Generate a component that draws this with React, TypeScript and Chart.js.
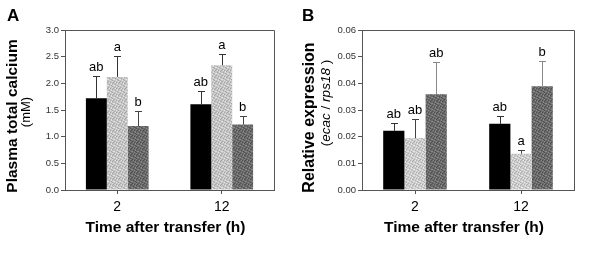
import React, { useEffect, useRef } from "react";
import { Chart, registerables } from "chart.js";
Chart.register(...registerables);

// ---------- data ----------
const categories = ["2", "12"];

// Panel A: plasma total calcium (mM)
const calciumBlack = [1.72, 1.61];
const calciumLight = [2.12, 2.34];
const calciumDark = [1.2, 1.23];
const calciumBlackErr = [0.42, 0.24];
const calciumLightErr = [0.39, 0.21];
const calciumDarkErr = [0.28, 0.16];
const calciumBlackLetters = ["ab", "ab"];
const calciumLightLetters = ["a", "a"];
const calciumDarkLetters = ["b", "b"];

// Panel B: relative expression (ecac / rps18)
const exprBlack = [0.0222, 0.0248];
const exprLight = [0.0195, 0.0136];
const exprDark = [0.0359, 0.0389];
const exprBlackErr = [0.0029, 0.0029];
const exprLightErr = [0.0071, 0.0015];
const exprDarkErr = [0.0122, 0.0096];
const exprBlackLetters = ["ab", "ab"];
const exprLightLetters = ["ab", "a"];
const exprDarkLetters = ["ab", "b"];

const FONT = "'Liberation Sans', Arial, Helvetica, sans-serif";

const STIPPLE = [
  [0, 1, 0, 2, 0, 0],
  [2, 0, 0, 1, 0, 2],
  [0, 0, 2, 0, 1, 0],
  [1, 0, 0, 0, 2, 0],
  [0, 2, 1, 0, 0, 1],
  [0, 0, 0, 2, 1, 0],
];

function makePattern(palette: string[]): CanvasPattern | string {
  const n = STIPPLE.length;
  const c = document.createElement("canvas");
  c.width = n;
  c.height = n;
  const ctx = c.getContext("2d");
  if (!ctx) return palette[0];
  for (let y = 0; y < n; y++) {
    for (let x = 0; x < n; x++) {
      ctx.fillStyle = palette[STIPPLE[y][x]];
      ctx.fillRect(x, y, 1, 1);
    }
  }
  return ctx.createPattern(c, "repeat") || palette[0];
}

type Seg = { text: string; italic?: boolean };

type PanelCfg = {
  panelLetter: string;
  letterX: number;
  yMax: number;
  yStep: number;
  decimals: number;
  leftWidth: number;
  title1: string;
  title1Size: number;
  title1X: number;
  title1Y: number;
  title2: Seg[];
  title2Size: number;
  title2X: number;
  title2Y: number;
  values: number[][];
  errors: number[][];
  letters: string[][];
  errColors: string[];
  lightPalette: string[];
  darkPalette: string[];
};

function Panel({ cfg }: { cfg: PanelCfg }) {
  const ref = useRef<HTMLCanvasElement | null>(null);
  useEffect(() => {
    if (!ref.current) return;
    const fills = [
      "#000000",
      makePattern(cfg.lightPalette),
      makePattern(cfg.darkPalette),
    ];

    const overlay = {
      id: "overlay",
      afterDatasetsDraw(chart: any) {
        const ctx = chart.ctx;
        const yScale = chart.scales.y;
        ctx.save();
        chart.data.datasets.forEach((ds: any, di: number) => {
          const meta = chart.getDatasetMeta(di);
          meta.data.forEach((el: any, i: number) => {
            const v = cfg.values[di][i];
            const e = cfg.errors[di][i];
            const yTop = yScale.getPixelForValue(v);
            const yErr = yScale.getPixelForValue(v + e);
            const x = Math.round(el.x) + 0.5;
            ctx.strokeStyle = cfg.errColors[di];
            ctx.lineWidth = 1;
            ctx.beginPath();
            ctx.moveTo(x, yTop);
            ctx.lineTo(x, Math.round(yErr) + 0.5);
            ctx.moveTo(x - 3.5, Math.round(yErr) + 0.5);
            ctx.lineTo(x + 3.5, Math.round(yErr) + 0.5);
            ctx.stroke();
            ctx.fillStyle = "#000";
            ctx.font = `13px ${FONT}`;
            ctx.textAlign = "center";
            ctx.textBaseline = "alphabetic";
            ctx.fillText(cfg.letters[di][i], el.x, yErr - 5);
          });
        });
        ctx.restore();
      },
      afterDraw(chart: any) {
        const ctx = chart.ctx;
        const a = chart.chartArea;
        ctx.save();
        // frame top and right
        ctx.strokeStyle = "#555";
        ctx.lineWidth = 1;
        ctx.beginPath();
        ctx.moveTo(a.left, Math.round(a.top) + 0.5);
        ctx.lineTo(Math.round(a.right) + 0.5, Math.round(a.top) + 0.5);
        ctx.lineTo(Math.round(a.right) + 0.5, a.bottom);
        ctx.stroke();

        // panel letter
        ctx.fillStyle = "#000";
        ctx.font = `bold 17px ${FONT}`;
        ctx.textAlign = "left";
        ctx.textBaseline = "alphabetic";
        ctx.fillText(cfg.panelLetter, cfg.letterX, 21);

        // x title
        ctx.font = `bold 15.5px ${FONT}`;
        ctx.textAlign = "center";
        ctx.fillText("Time after transfer (h)", (a.left + a.right) / 2 - 4, 232);

        // y title line 1
        ctx.save();
        ctx.translate(cfg.title1X, cfg.title1Y);
        ctx.rotate(-Math.PI / 2);
        ctx.font = `bold ${cfg.title1Size}px ${FONT}`;
        ctx.textAlign = "center";
        ctx.fillText(cfg.title1, 0, 0);
        ctx.restore();

        // y title line 2 (mixed styles)
        ctx.save();
        ctx.translate(cfg.title2X, cfg.title2Y);
        ctx.rotate(-Math.PI / 2);
        ctx.textAlign = "left";
        const fontOf = (s: Seg) =>
          `${s.italic ? "italic " : ""}${cfg.title2Size}px ${FONT}`;
        let total = 0;
        cfg.title2.forEach((s) => {
          ctx.font = fontOf(s);
          total += ctx.measureText(s.text).width;
        });
        let xx = -total / 2;
        cfg.title2.forEach((s) => {
          ctx.font = fontOf(s);
          ctx.fillText(s.text, xx, 0);
          xx += ctx.measureText(s.text).width;
        });
        ctx.restore();

        ctx.restore();
      },
    };

    const chart = new Chart(ref.current, {
      type: "bar",
      data: {
        labels: categories,
        datasets: cfg.values.map((vals, di) => ({
          data: vals,
          backgroundColor: fills[di] as any,
          borderWidth: 0,
          categoryPercentage: 0.6,
          barPercentage: 1.0,
        })),
      },
      options: {
        responsive: false,
        animation: false,
        events: [],
        layout: { padding: { left: 0, right: 26, top: 30, bottom: 0 } },
        plugins: {
          legend: { display: false },
          tooltip: { enabled: false },
          title: { display: false },
        },
        scales: {
          x: {
            grid: {
              display: true,
              offset: false,
              drawOnChartArea: false,
              tickLength: 4,
              color: "#555",
            },
            border: { color: "#555" },
            ticks: {
              color: "#000",
              font: { family: FONT, size: 14 },
              padding: 5,
            },
            afterFit: (scale: any) => {
              scale.height = 66;
            },
          },
          y: {
            min: 0,
            max: cfg.yMax,
            grid: {
              display: true,
              drawOnChartArea: false,
              tickLength: 4,
              color: "#555",
            },
            border: { color: "#555" },
            ticks: {
              stepSize: cfg.yStep,
              color: "#333",
              font: { family: FONT, size: 9.5 },
              padding: 2,
              callback: (v: any) => Number(v).toFixed(cfg.decimals),
            },
            afterFit: (scale: any) => {
              scale.width = cfg.leftWidth;
            },
          },
        },
      },
      plugins: [overlay],
    });
    return () => chart.destroy();
  }, [cfg]);
  return <canvas ref={ref} width={300} height={256} style={{ display: "block" }} />;
}

const panelA: PanelCfg = {
  panelLetter: "A",
  letterX: 7,
  yMax: 3,
  yStep: 0.5,
  decimals: 1,
  leftWidth: 65,
  title1: "Plasma total calcium",
  title1Size: 15.5,
  title1X: 16.5,
  title1Y: 116,
  title2: [{ text: "(mM)" }],
  title2Size: 13,
  title2X: 30,
  title2Y: 112,
  values: [calciumBlack, calciumLight, calciumDark],
  errors: [calciumBlackErr, calciumLightErr, calciumDarkErr],
  letters: [calciumBlackLetters, calciumLightLetters, calciumDarkLetters],
  errColors: ["#333", "#333", "#444"],
  lightPalette: ["#c4c4c4", "#a6a6a6", "#e0e0e0"],
  darkPalette: ["#6a6a6a", "#4e4e4e", "#888888"],
};

const panelB: PanelCfg = {
  panelLetter: "B",
  letterX: 2,
  yMax: 0.06,
  yStep: 0.01,
  decimals: 2,
  leftWidth: 62,
  title1: "Relative expression",
  title1Size: 16,
  title1X: 14,
  title1Y: 117.5,
  title2: [
    { text: "(" },
    { text: "ecac", italic: true },
    { text: " / " },
    { text: "rps18", italic: true },
    { text: " )" },
  ],
  title2Size: 13.5,
  title2X: 30,
  title2Y: 103,
  values: [exprBlack, exprLight, exprDark],
  errors: [exprBlackErr, exprLightErr, exprDarkErr],
  letters: [exprBlackLetters, exprLightLetters, exprDarkLetters],
  errColors: ["#333", "#444", "#888"],
  lightPalette: ["#cccccc", "#aeaeae", "#e6e6e6"],
  darkPalette: ["#6a6a6a", "#4e4e4e", "#888888"],
};

export default function App() {
  return (
    <div
      style={{
        position: "absolute",
        left: 0,
        top: 0,
        width: 600,
        height: 256,
        background: "#fff",
        display: "flex",
      }}
    >
      <Panel cfg={panelA} />
      <Panel cfg={panelB} />
    </div>
  );
}
